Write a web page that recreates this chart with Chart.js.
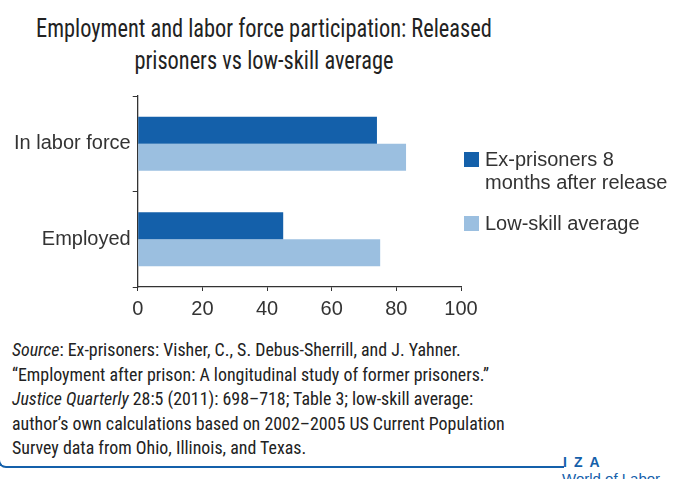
<!DOCTYPE html>
<html>
<head>
<meta charset="utf-8">
<script src="https://cdn.jsdelivr.net/npm/chart.js@4/dist/chart.umd.min.js"></script>
<style>
  body { margin: 0; background: #fff; }
  #wrap { position: relative; width: 676px; height: 479px; overflow: hidden;
          font-family: "Roboto Condensed", Roboto, sans-serif; color: #222; }
  #title { position: absolute; left: -137px; top: 12px; width: 801px; text-align: center; }
  #title span { display: inline-block; font-size: 26px; line-height: 32px; transform: scaleX(0.86); transform-origin: center; white-space: nowrap; }
  #chartBox { position: absolute; left: 0; top: 0; width: 676px; height: 323px; }
  #legend { position: absolute; left: 464px; top: 148px; font-family: "Liberation Sans", Arial, sans-serif; font-size: 20px; line-height: 23px; color: #333; }
  #legend .item { display: flex; align-items: flex-start; margin-bottom: 18px; }
  #legend .box { width: 15px; height: 15px; margin-top: 4px; margin-right: 6px; flex: none; }
  #source { position: absolute; left: 12px; top: 338px; font-size: 17.9px; line-height: 24.5px; color: #222; }
  #frame { position: absolute; left: -2px; top: 380px; width: 564px; height: 86px;
           border-left: 2px solid #1460aa; border-bottom: 2px solid #1460aa; border-bottom-left-radius: 8px; }
  #iza { position: absolute; left: 563px; top: 454px; color: #1460aa; font-family: "Liberation Sans", Arial, sans-serif;
         font-weight: bold; font-size: 14px; letter-spacing: 7px; }
  #wol { position: absolute; left: 562px; top: 470px; color: #1460aa; font-family: "Liberation Sans", Arial, sans-serif; font-size: 15px; }
</style>
</head>
<body>
<div id="wrap">
  <div id="title"><span>Employment and labor force participation: Released<br>prisoners vs low-skill average</span></div>
  <div id="chartBox"><canvas id="chart"></canvas></div>
  <div id="legend"></div>
  <div id="source"><i>Source</i>: Ex-prisoners: Visher, C., S. Debus-Sherrill, and J. Yahner.<br>“Employment after prison: A longitudinal study of former prisoners.”<br><i>Justice Quarterly</i> 28:5 (2011): 698–718; Table 3; low-skill average:<br>author’s own calculations based on 2002–2005 US Current Population<br>Survey data from Ohio, Illinois, and Texas.</div>
  <div id="frame"></div>
  <div id="iza">IZA</div>
  <div id="wol">World of Labor</div>
</div>
<script>
const categories = ['In labor force', 'Employed'];
const seriesNames = [['Ex-prisoners 8', 'months after release'], ['Low-skill average']];
const exPrisoners = [74, 45];
const lowSkill = [83, 75];
const xTicks = [0, 20, 40, 60, 80, 100];
const colors = ['#1460aa', '#9bbfe0'];

const tickFont = '"Liberation Sans", Arial, sans-serif';

// legend in html, from the series names
const legendEl = document.getElementById('legend');
seriesNames.forEach((name, i) => {
    const item = document.createElement('div');
    item.className = 'item';
    const box = document.createElement('div');
    box.className = 'box';
    box.style.background = colors[i];
    const txt = document.createElement('div');
    txt.innerHTML = name.join('<br>');
    item.appendChild(box);
    item.appendChild(txt);
    legendEl.appendChild(item);
});

new Chart(document.getElementById('chart'), {
    type: 'bar',
    data: {
        labels: categories,
        datasets: [
            { label: seriesNames[0].join(' '), data: exPrisoners, backgroundColor: colors[0] },
            { label: seriesNames[1].join(' '), data: lowSkill, backgroundColor: colors[1] }
        ]
    },
    options: {
        indexAxis: 'y',
        responsive: true,
        maintainAspectRatio: false,
        animation: false,
        layout: { padding: { left: 12, right: 215, top: 96, bottom: 0 } },
        datasets: { bar: { categoryPercentage: 0.567, barPercentage: 1.0 } },
        plugins: {
            legend: { display: false },
            tooltip: { enabled: false }
        },
        scales: {
            x: {
                min: 0, max: 100,
                afterBuildTicks: axis => { axis.ticks = xTicks.map(v => ({ value: v })); },
                afterFit: axis => { axis.height = 36; },
                grid: { drawOnChartArea: false, drawTicks: true, tickLength: 4, color: '#333', lineWidth: 1 },
                border: { display: true, color: '#333', width: 1.3 },
                ticks: { color: '#333', font: { family: tickFont, size: 20 }, padding: 6, maxRotation: 0 }
            },
            y: {
                grid: { drawOnChartArea: false, drawTicks: true, tickLength: 5, color: '#333', lineWidth: 1 },
                border: { display: true, color: '#333', width: 1.3 },
                ticks: { color: '#333', font: { family: tickFont, size: 20 }, padding: 2 }
            }
        }
    }
});
</script>
</body>
</html>
